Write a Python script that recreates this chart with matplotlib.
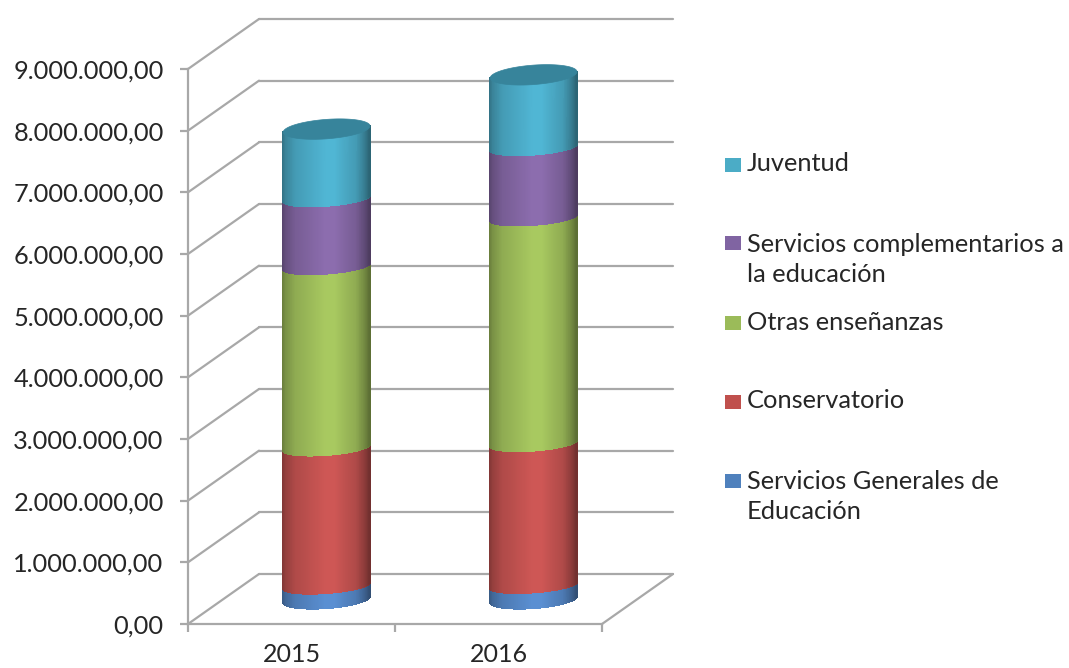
import numpy as np
import matplotlib
matplotlib.use("Agg")
import matplotlib.pyplot as plt
from matplotlib.collections import PolyCollection
from matplotlib.colors import to_rgb
from matplotlib.lines import Line2D
from matplotlib.patches import Polygon, Rectangle
from matplotlib.ticker import FuncFormatter
from matplotlib.transforms import IdentityTransform

plt.rcParams['font.family'] = ['Lato', 'DejaVu Sans']

years = ['2015', '2016']
series_names = ['Servicios Generales de\nEducación', 'Conservatorio', 'Otras enseñanzas',
                'Servicios complementarios a\nla educación', 'Juventud']
serv_generales = [220000, 230000]
conservatorio = [2240000, 2300000]
otras_ensenanzas = [2940000, 3660000]
serv_complementarios = [1100000, 1140000]
juventud = [1120000, 1170000]
series_values = [serv_generales, conservatorio, otras_ensenanzas, serv_complementarios, juventud]
colors = ['#5A8FD2', '#CE5755', '#A8C960', '#8C6DAE', '#50B6D4']
legend_colors = ['#4F81BD', '#C0504D', '#9BBB59', '#8064A2', '#4BACC6']
cap_color = '#37849B'
grid_color = '#A8A8A8'
text_color = '#262626'

W, H = 1069, 668
DX, DY = 71, 50           # depth of the 3-D box, px
fig = plt.figure(figsize=(W / 100, H / 100), dpi=100, facecolor='white')
ax = fig.add_axes([188 / W, (H - 624) / H, 414 / W, 555 / H])
ax.set_xlim(0, 2)
ax.set_ylim(0, 9e6)
ax.patch.set_alpha(0)

for s in ('top', 'right'):
    ax.spines[s].set_visible(False)
for s in ('left', 'bottom'):
    ax.spines[s].set_color(grid_color)
    ax.spines[s].set_linewidth(1.6)

ax.set_yticks(np.arange(0, 9.5e6, 1e6))
ax.yaxis.set_major_formatter(FuncFormatter(
    lambda v, _: f'{v:,.2f}'.replace(',', 'X').replace('.', ',').replace('X', '.')))
ax.tick_params(axis='y', length=5.5, width=1.6, color=grid_color, pad=12,
               labelsize=18.3, labelcolor=text_color)
ax.set_xticks([0, 1, 2])
ax.set_xticklabels([])
ax.set_xticks([0.5, 1.5], minor=True)
ax.set_xticklabels(years, minor=True)
ax.tick_params(axis='x', which='major', length=6, width=1.6, color=grid_color)
ax.tick_params(axis='x', which='minor', length=0, pad=14, labelsize=18, labelcolor=text_color)

fig.canvas.draw()
ident = IdentityTransform()


def proj(x, y):
    return ax.transData.transform((x, y))


def line(p, q, z=1):
    ax.add_line(Line2D([p[0], q[0]], [p[1], q[1]], transform=ident, color=grid_color, lw=1.6,
                       clip_on=False, zorder=z, solid_capstyle='round'))


# gridlines on side wall and back wall, floor
for v in ax.get_yticks():
    a = proj(0, v)
    b = a + (DX, DY)
    c = proj(2, v) + (DX, DY)
    line(a, b)
    line(b, c)
r0 = proj(2, 0)
line(r0, r0 + (DX, DY))

# cylinders
A = 43.5
B_BOTTOM, B_INNER, B_TOP = 9.0, 7.5, 9.7
PHI = np.radians(4.3)
cp, sp = np.cos(PHI), np.sin(PHI)
SHADE_X = [0, .04, .15, .5, .6, .85, .95, 1]
SHADE_F = [.62, .72, .85, 1, 1, .85, .68, .55]


def ell(center, t, b):
    ex, ey = A * np.cos(t), b * np.sin(t)
    return np.column_stack([center[0] + ex * cp - ey * sp, center[1] + ex * sp + ey * cp])


ts = np.linspace(np.pi, 2 * np.pi, 120)
n = len(series_values)
for i in range(len(years)):
    base = 0.0
    for j, (values, col) in enumerate(zip(series_values, colors)):
        lo = proj(i + 0.5, base) + (DX / 2 - 0.4, DY / 2)
        base += values[i]
        hi = proj(i + 0.5, base) + (DX / 2 - 0.4, DY / 2)
        pl = ell(lo, ts, B_BOTTOM if j == 0 else B_INNER)
        ph = ell(hi, ts, B_TOP if j == n - 1 else B_INNER)
        polys, fc = [], []
        rgb = np.array(to_rgb(col))
        for k in range(len(ts) - 1):
            polys.append([pl[k], pl[k + 1], ph[k + 1], ph[k]])
            pos = (pl[k, 0] + pl[k + 1, 0]) / 2
            f = np.interp((pos - (lo[0] - A)) / (2 * A), SHADE_X, SHADE_F)
            fc.append(tuple(rgb * f))
        ax.add_collection(PolyCollection(polys, facecolors=fc, edgecolors=fc, linewidths=0.8,
                                         antialiased=False, transform=ident, clip_on=False, zorder=3))
    top = proj(i + 0.5, base) + (DX / 2 - 0.4, DY / 2)
    ax.add_patch(Polygon(ell(top, np.linspace(0, 2 * np.pi, 120), B_TOP), closed=True,
                         facecolor=cap_color, edgecolor=cap_color, lw=0.5,
                         transform=ident, clip_on=False, zorder=4))

# legend (uneven spacing as in the source, hence placed by hand)
legend_y = [482, 401, 323, 245, 164]
swatch_y = [474, 395, 316, 236, 158]
for name, col, y, sy in zip(series_names, legend_colors, legend_y, swatch_y):
    fig.add_artist(Rectangle((725 / W, 1 - (sy + 14) / H), 16 / W, 14 / H, transform=fig.transFigure,
                             facecolor=col, edgecolor='none'))
    fig.text(747 / W, 1 - (y - 12) / H, name, ha='left', va='top', fontsize=18.3, color=text_color,
             linespacing=1.36)

fig.savefig('out.png', dpi=100, facecolor='white')
